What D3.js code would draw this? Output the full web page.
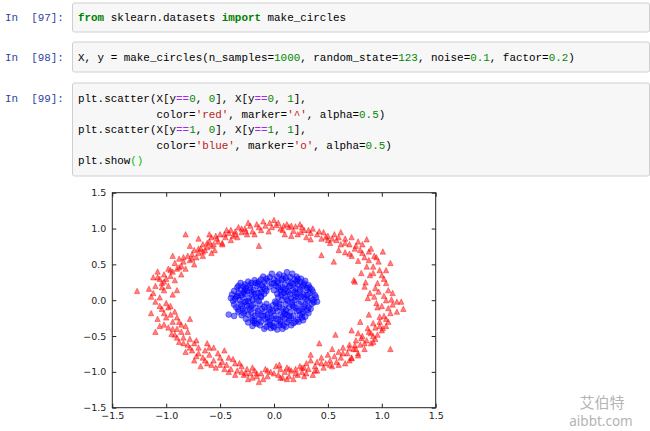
<!DOCTYPE html>
<html><head><meta charset="utf-8">
<script src="https://cdn.jsdelivr.net/npm/d3@7"></script>
<style>html,body{margin:0;padding:0;background:#fff;}svg{display:block}</style>
</head><body>
<svg id="c" width="650" height="431"></svg>
<script>
// ---------- data ----------
const xTicks = [-1.5, -1.0, -0.5, 0.0, 0.5, 1.0, 1.5];
const yTicks = [-1.5, -1.0, -0.5, 0.0, 0.5, 1.0, 1.5];

// class 0 (red triangles)
const redPoints = [
[1.04,0.00],[1.09,0.01],[1.14,-0.02],[1.18,-0.02],[0.95,-0.04],[0.87,0.03],[0.89,0.10],[0.97,0.12],[1.06,0.14],[0.94,0.17],
[0.84,0.19],[1.04,0.24],[0.75,0.26],[0.89,0.35],[1.00,0.35],[0.81,0.38],[0.98,0.42],[0.92,0.47],[0.97,0.54],[1.08,0.52],
[1.01,0.68],[0.86,0.47],[0.78,0.55],[0.84,0.60],[0.93,0.62],[0.72,0.62],[0.80,0.70],[0.88,0.68],[0.75,0.72],[0.66,0.67],
[0.70,0.78],[0.78,0.82],[0.62,0.78],[0.58,0.84],[0.66,0.86],[0.72,0.88],[0.52,0.80],[0.50,0.90],[0.56,0.92],[0.44,0.86],
[0.40,0.92],[0.46,0.95],[0.34,0.94],[0.30,0.88],[0.28,0.98],[0.22,0.92],[0.18,0.97],[0.14,1.02],[0.10,0.92],[0.06,1.00],
[0.02,1.05],[0.00,1.12],[0.04,1.08],[0.12,1.06],[0.20,1.03],[0.26,1.02],[0.36,1.00],[0.48,0.88],[0.62,0.95],[0.82,0.78],
[0.86,0.85],[0.90,0.72],[0.95,0.60],[0.70,0.65],[0.60,0.70],[0.34,0.85],[0.16,0.90],[0.09,1.04],[0.25,0.95],[0.54,0.86],
[0.44,0.63],[0.555,0.54],[0.74,0.28],[0.85,0.25],[1.02,0.30],[0.93,0.05],
[-0.04,1.08],[-0.08,1.04],[-0.12,0.98],[-0.16,1.06],[-0.20,0.96],[-0.22,1.04],[-0.27,1.00],[-0.30,0.95],[-0.33,1.02],[-0.36,0.96],
[-0.38,0.90],[-0.42,0.94],[-0.45,0.88],[-0.48,0.80],[-0.50,0.92],[-0.53,0.86],[-0.56,0.78],[-0.58,0.88],[-0.60,0.82],[-0.62,0.74],
[-0.64,0.70],[-0.66,0.78],[-0.68,0.72],[-0.70,0.66],[-0.72,0.60],[-0.74,0.70],[-0.76,0.64],[-0.78,0.56],[-0.80,0.62],[-0.82,0.92],
[-0.84,0.54],[-0.86,0.48],[-0.88,0.58],[-0.90,0.44],[-0.92,0.52],[-0.94,0.40],[-0.96,0.34],[-0.98,0.44],[-1.00,0.30],[-1.02,0.36],
[-1.04,0.24],[-1.06,0.30],[-1.10,0.20],[-1.12,0.32],[-1.16,0.16],[-1.27,0.13],[-0.14,0.76],[-0.48,0.78],[-0.55,0.70],[-0.66,0.62],
[-0.74,0.50],[-0.82,0.44],[-0.86,0.36],[-0.92,0.28],[-0.98,0.20],[-1.02,0.14],[-0.25,0.92],[-0.05,0.96],[-0.10,1.10],[-0.34,0.88],
[-0.44,0.98],[-0.60,0.92],[-0.70,0.86],[-0.78,0.76],[-1.08,0.40],[-0.94,0.62],[-0.58,0.66],[-0.40,0.84],[-1.14,0.05],[-0.90,0.14],
[-1.06,0.04],[-1.10,-0.02],[-1.00,-0.04],[-1.14,-0.18],[-1.04,-0.12],[-0.96,-0.08],[-0.92,-0.16],[-1.08,-0.26],[-1.00,-0.24],[-0.94,-0.30],
[-0.86,-0.34],[-0.98,-0.38],[-1.10,-0.44],[-0.90,-0.40],[-0.82,-0.36],[-0.80,-0.44],[-0.92,-0.48],[-0.95,-0.47],[-0.84,-0.52],[-0.78,-0.54],
[-0.88,-0.58],[-0.80,-0.62],[-0.74,-0.60],[-0.76,-0.70],[-0.70,-0.66],[-0.82,-0.72],[-0.64,-0.70],[-0.66,-0.80],[-0.60,-0.76],[-0.72,-0.78],
[-0.56,-0.84],[-0.62,-0.88],[-0.52,-0.74],[-0.50,-0.80],[-0.48,-0.86],[-0.54,-0.94],[-0.44,-0.90],[-0.42,-0.80],[-0.40,-0.96],[-0.36,-0.88],
[-0.34,-0.98],[-0.30,-0.92],[-0.28,-1.04],[-0.25,-0.96],[-0.22,-1.02],[-0.20,-1.08],[-0.18,-0.98],[-0.14,-1.14],[-0.12,-1.02],[-0.08,-0.96],
[-0.06,-1.06],[-0.03,-1.00],[-0.68,-0.92],[-0.56,-0.66],[-0.46,-0.70],[-0.86,-0.44],[-0.96,-0.20],[-1.02,-0.34],[-0.74,-0.84],[-0.36,-1.04],
[-0.16,-1.06],[-0.24,-1.10],[-0.30,-1.00],[-0.42,-1.00],[-0.10,-1.10],[-0.90,-0.24],[-1.06,-0.08],[-0.62,-0.60],[-0.38,-0.82],[-0.78,-0.26],
[0.02,-0.92],[0.04,-1.04],[0.06,-0.96],[0.08,-1.08],[0.10,-1.00],[0.12,-0.94],[0.14,-1.06],[0.16,-0.98],[0.18,-1.10],[0.20,-0.96],
[0.22,-1.04],[0.24,-0.92],[0.26,-1.00],[0.28,-1.06],[0.30,-0.88],[0.32,-0.96],[0.34,-0.84],[0.36,-1.04],[0.38,-0.92],[0.40,-0.86],
[0.42,-0.60],[0.44,-0.80],[0.46,-0.94],[0.48,-0.88],[0.50,-0.76],[0.52,-0.84],[0.54,-0.92],[0.56,-0.78],[0.58,-0.86],[0.57,-0.48],
[0.60,-0.72],[0.62,-0.80],[0.64,-0.66],[0.66,-0.88],[0.68,-0.74],[0.70,-0.62],[0.72,-0.80],[0.74,-0.68],[0.76,-0.56],[0.78,-0.74],
[0.80,-0.62],[0.82,-0.50],[0.84,-0.68],[0.86,-0.56],[0.88,-0.44],[0.90,-0.60],[0.92,-0.50],[0.94,-0.38],[0.96,-0.48],[0.98,-0.30],
[1.00,-0.42],[1.02,-0.22],[1.04,-0.36],[1.06,-0.30],[1.08,-0.68],[1.06,-0.11],[1.14,-0.16],[1.20,-0.12],[0.92,-0.32],[0.87,-0.39],
[0.80,-0.30],[0.72,-0.42],[0.78,-0.46],[0.81,-0.53],[0.75,-0.63],[0.70,-0.67],[0.72,-0.81],[0.78,-0.77],[0.98,-0.23],[0.88,-0.20],
[1.01,-0.39],[0.92,-0.58],[0.60,-0.90],[0.40,-0.98],[0.28,-0.94],[0.12,-1.10],[0.05,-0.90],[0.34,-0.76],[0.54,-0.68],[0.96,-0.10],
[-0.66,0.68],[-0.62,0.80],[-0.52,0.82],[-0.46,0.92],[-0.40,0.98],[-0.36,0.92],[-0.30,1.00],[-0.26,0.96],[-0.70,0.72],[-0.76,0.58],
[-0.84,0.60],[-0.88,0.46],[-0.96,0.42],[-1.02,0.26],[-1.08,0.32],[-1.12,0.10],[-0.94,0.08],[-1.04,0.18],[-0.58,0.76],[-0.54,0.90],
[-1.02,-0.18],[-0.94,-0.40],[-0.90,-0.52],[-0.84,-0.60],[-0.78,-0.66],[-0.70,-0.74],[-0.64,-0.84],[-0.58,-0.90],[-0.50,-0.90],[-0.46,-0.96],
[-0.32,-0.88],[-0.26,-1.02],[-0.20,-0.94],[-0.16,-1.02],[-0.06,-0.98],[-0.98,-0.10],[-1.06,-0.36],[-0.88,-0.30],[-0.72,-0.56],[-0.60,-0.66],
[0.00,-1.02],[0.06,-1.08],[0.14,-0.96],[0.20,-1.02],[0.26,-0.94],[0.30,-1.02],[0.38,-0.98],[0.44,-0.88],[0.52,-0.90],[0.64,-0.74],
[0.70,-0.84],[0.76,-0.68],[0.84,-0.60],[0.90,-0.46],[0.94,-0.54],[0.98,-0.36],[1.04,-0.26],[1.08,-0.18],[1.10,-0.06],[1.00,-0.08],
[1.02,0.06],[1.10,0.10],[0.96,0.24],[0.92,0.38],[1.04,0.42],[0.88,0.56],[0.82,0.66],[0.76,0.76],[0.66,0.80],[0.60,0.88],
[0.50,0.84],[0.42,0.96],[0.32,0.98],[0.24,1.06],[0.16,1.04],[0.08,0.98],[-0.02,1.02],[-0.14,1.02],[-0.18,0.92],[-0.24,1.08]
];

// class 1 (blue circles)
const bluePoints = [
[0.12,0.39],[0.17,0.37],[0.05,0.36],[-0.02,0.37],
[-0.10,0.33],[-0.04,0.32],[0.03,0.33],[0.09,0.34],[0.15,0.32],[0.21,0.33],[0.25,0.30],
[-0.24,0.26],[-0.18,0.28],[-0.12,0.29],[-0.06,0.27],[0.00,0.29],[0.07,0.28],[0.13,0.27],[0.19,0.29],[0.24,0.26],[0.29,0.27],
[-0.31,0.24],[-0.27,0.22],[-0.21,0.24],[-0.15,0.23],[-0.09,0.25],[-0.02,0.23],[0.04,0.24],[0.10,0.22],[0.16,0.24],[0.22,0.22],[0.28,0.23],[0.32,0.21],
[-0.34,0.18],[-0.28,0.19],[-0.22,0.17],[-0.16,0.20],[-0.10,0.18],[-0.04,0.19],[0.02,0.20],[0.08,0.18],[0.14,0.19],[0.20,0.17],[0.26,0.19],[0.31,0.17],[0.35,0.15],
[-0.37,0.13],[-0.31,0.15],[-0.25,0.13],[-0.19,0.14],[-0.13,0.15],[-0.07,0.13],[0.00,0.14],[0.06,0.15],[0.12,0.13],[0.18,0.14],[0.24,0.12],[0.30,0.14],[0.36,0.12],
[-0.39,0.08],[-0.33,0.10],[-0.27,0.09],[-0.21,0.08],[-0.15,0.10],[-0.09,0.09],[0.03,0.09],[0.09,0.10],[0.15,0.08],[0.21,0.09],[0.27,0.08],[0.33,0.10],[0.38,0.07],
[-0.40,0.03],[-0.35,0.05],[-0.29,0.04],[-0.23,0.03],[-0.17,0.05],[-0.12,0.04],[0.04,0.04],[0.10,0.05],[0.16,0.03],[0.22,0.04],[0.28,0.05],[0.34,0.03],[0.39,0.04],
[-0.38,-0.01],[-0.32,0.00],[-0.26,-0.02],[-0.20,0.00],[-0.14,-0.01],[0.01,-0.02],[0.07,0.00],[0.13,-0.01],[0.19,0.00],[0.25,-0.02],[0.31,-0.01],[0.36,0.00],[0.40,-0.02],
[-0.37,-0.06],[-0.31,-0.05],[-0.25,-0.07],[-0.19,-0.05],[-0.13,-0.06],[-0.07,-0.05],[-0.01,-0.07],[0.05,-0.05],[0.11,-0.06],[0.17,-0.07],[0.23,-0.05],[0.29,-0.06],[0.35,-0.05],
[-0.35,-0.10],[-0.29,-0.12],[-0.23,-0.10],[-0.17,-0.11],[-0.11,-0.12],[-0.05,-0.10],[0.02,-0.11],[0.08,-0.12],[0.14,-0.10],[0.20,-0.11],[0.26,-0.12],[0.32,-0.10],
[-0.33,-0.16],[-0.27,-0.15],[-0.21,-0.17],[-0.15,-0.15],[-0.09,-0.16],[-0.03,-0.17],[0.03,-0.15],[0.09,-0.16],[0.15,-0.17],[0.21,-0.15],[0.27,-0.16],[0.32,-0.18],
[-0.42,-0.20],[-0.37,-0.22],[-0.30,-0.21],[-0.24,-0.20],[-0.18,-0.22],[-0.12,-0.21],[-0.06,-0.20],[0.00,-0.22],[0.06,-0.21],[0.12,-0.20],[0.18,-0.22],[0.24,-0.21],[0.29,-0.23],
[-0.26,-0.26],[-0.20,-0.25],[-0.14,-0.27],[-0.08,-0.26],[-0.02,-0.25],[0.04,-0.27],[0.10,-0.26],[0.16,-0.25],[0.22,-0.27],[0.27,-0.28],
[-0.24,-0.31],[-0.18,-0.32],[-0.12,-0.30],[-0.06,-0.31],[0.00,-0.32],[0.06,-0.30],[0.12,-0.31],[0.18,-0.32],[0.23,-0.30],
[-0.20,-0.36],[-0.13,-0.35],[-0.07,-0.37],[-0.01,-0.36],[0.05,-0.35],[0.11,-0.37],[0.16,-0.35],
[-0.09,-0.40],[-0.03,-0.39],[0.03,-0.41],[0.08,-0.40],
[-0.28,0.11],[-0.22,0.21],[-0.12,0.06],[0.00,0.24],[0.06,0.12],[0.12,0.01],[0.18,0.23],[0.24,0.15],[0.30,0.02],[-0.30,-0.08],
[-0.22,-0.13],[-0.16,0.02],[-0.04,-0.13],[0.02,-0.04],[0.10,-0.19],[0.18,-0.09],[0.26,-0.19],[0.34,-0.12],[-0.18,-0.29],[-0.06,-0.24],
[0.06,-0.33],[0.14,-0.28],[0.20,0.05],[-0.34,0.06],[-0.26,0.17],[0.08,0.30],[-0.14,0.26],[0.22,0.30],[0.28,-0.09],
[-0.33,0.20],[-0.27,0.14],[-0.21,0.12],[-0.17,0.24],[-0.11,0.21],[-0.07,0.30],[0.03,0.26],[0.11,0.31],[0.15,0.20],[0.21,0.26],
[0.27,0.21],[0.33,0.18],[-0.36,0.02],[-0.30,0.07],[-0.24,-0.01],[-0.18,0.09],[0.07,0.07],[0.13,0.11],[0.19,0.11],[0.25,0.05],
[0.31,0.07],[0.37,-0.03],[-0.33,-0.13],[-0.27,-0.03],[-0.21,-0.08],[-0.15,-0.19],[-0.09,-0.09],[-0.01,-0.15],[0.05,-0.09],[0.11,-0.14],
[0.17,-0.03],[0.23,-0.14],[0.31,-0.14],[-0.28,-0.18],[-0.20,-0.28],[-0.10,-0.22],[-0.04,-0.29],[0.02,-0.26],[0.08,-0.23],[0.14,-0.22],
[0.20,-0.30],[0.26,-0.24],[-0.16,-0.33],[-0.04,-0.34],[0.09,-0.35],[0.00,-0.38],[-0.12,0.11],[-0.08,0.16],[0.04,0.18],[0.10,0.15]
];

// code cells: [text, style] tokens per line
const codePrompts = ["In  [97]:", "In  [98]:", "In  [99]:"];
const codeLines = [
  [[["from","kw"],[" sklearn.datasets ",""],["import","kw"],[" make_circles",""]]],
  [[["X, y = make_circles(n_samples=",""],["1000","num"],[", random_state=",""],["123","num"],[", noise=",""],["0.1","num"],[", factor=",""],["0.2","num"],[")",""]]],
  [
    [["plt.scatter(X[y",""],["==","op"],["0","num"],[", ",""],["0","num"],["], X[y",""],["==","op"],["0","num"],[", ",""],["1","num"],["],",""]],
    [["            color=",""],["'red'","str"],[", marker=",""],["'^'","str"],[", alpha=",""],["0.5","num"],[")",""]],
    [["plt.scatter(X[y",""],["==","op"],["1","num"],[", ",""],["0","num"],["], X[y",""],["==","op"],["1","num"],[", ",""],["1","num"],["],",""]],
    [["            color=",""],["'blue'","str"],[", marker=",""],["'o'","str"],[", alpha=",""],["0.5","num"],[")",""]],
    [["plt.show",""],["()","brk"]]
  ]
];
const watermark = ["艾伯特", "aibbt.com"];

// ---------- layout ----------
const svg = d3.select("#c");
svg.append("rect").attr("width",650).attr("height",431).attr("fill","#fff");

const cellBox = [[3,32],[42,72],[83,176]];
const cellLineY = [[17],[57],[98,113.5,129,144.5,160]];
const codeX = 78, codeFS = 10.9;
const styleFill = {"":"#000", kw:"#008000", num:"#008800", str:"#BA2121", op:"#AA22FF", brk:"#00bb00"};
const monoFont = "'Liberation Mono','DejaVu Sans Mono',monospace";

cellBox.forEach((b,i)=>{
  svg.append("rect").attr("x",72.5).attr("y",b[0]).attr("width",577).attr("height",b[1]-b[0])
    .attr("rx",2).attr("fill","#f7f7f7").attr("stroke","#cfcfcf").attr("stroke-width",1);
  svg.append("text").attr("x",5).attr("y",cellLineY[i][0]+4)
    .attr("font-family",monoFont).attr("font-size",codeFS).attr("fill","#303F9F")
    .style("white-space","pre").text(codePrompts[i]);
  codeLines[i].forEach((line,j)=>{
    svg.append("text").attr("x",codeX).attr("y",cellLineY[i][j]+4)
      .attr("font-family",monoFont).attr("font-size",codeFS)
      .style("white-space","pre")
      .selectAll("tspan").data(line).join("tspan")
      .attr("fill",d=>styleFill[d[1]])
      .attr("font-weight",d=>d[1]==="kw"?"bold":"normal")
      .text(d=>d[0]);
  });
});

// ---------- plot ----------
const L=112.3, R=435.7, T=192.7, B=407.7;
const x = d3.scaleLinear().domain([-1.5,1.5]).range([L,R]);
const y = d3.scaleLinear().domain([-1.5,1.5]).range([B,T]);
const fmt = d3.format(".1f");

const g = svg.append("g");
g.append("rect").attr("x",L).attr("y",T).attr("width",R-L).attr("height",B-T).attr("fill","#fff");

// red triangles
const h = 2.7;
g.append("g").selectAll("path").data(redPoints).join("path")
  .attr("d",`M0,${-h}L${-h},${h}L${h},${h}Z`)
  .attr("transform",d=>`translate(${x(d[0])},${y(d[1])})`)
  .attr("fill","red").attr("fill-opacity",0.5)
  .attr("stroke","red").attr("stroke-opacity",0.5).attr("stroke-width",0.8);

// blue circles
g.append("g").selectAll("circle").data(bluePoints).join("circle")
  .attr("cx",d=>x(d[0])).attr("cy",d=>y(d[1])).attr("r",2.9)
  .attr("fill","blue").attr("fill-opacity",0.5)
  .attr("stroke","blue").attr("stroke-opacity",0.5).attr("stroke-width",0.8);

// axes with inward ticks on all sides
const tickFont = "'DejaVu Sans',sans-serif";
function styleAxis(sel){
  sel.select(".domain").remove();
  sel.selectAll(".tick line").attr("stroke","#222");
  sel.selectAll(".tick text").attr("font-family",tickFont).attr("font-size",9.5).attr("fill","#222");
}
svg.append("g").attr("transform",`translate(0,${B})`)
  .call(d3.axisBottom(x).tickValues(xTicks).tickFormat(fmt).tickSize(-4).tickSizeOuter(0).tickPadding(5))
  .call(styleAxis);
svg.append("g").attr("transform",`translate(${L},0)`)
  .call(d3.axisLeft(y).tickValues(yTicks).tickFormat(fmt).tickSize(-4).tickSizeOuter(0).tickPadding(6))
  .call(styleAxis);
svg.append("g").attr("transform",`translate(0,${T})`)
  .call(d3.axisTop(x).tickValues(xTicks).tickFormat("").tickSize(-4).tickSizeOuter(0))
  .call(styleAxis);
svg.append("g").attr("transform",`translate(${R},0)`)
  .call(d3.axisRight(y).tickValues(yTicks).tickFormat("").tickSize(-4).tickSizeOuter(0))
  .call(styleAxis);
svg.append("rect").attr("x",L).attr("y",T).attr("width",R-L).attr("height",B-T)
  .attr("fill","none").attr("stroke","#222").attr("stroke-width",1);

// watermark
svg.append("text").attr("x",602).attr("y",408).attr("text-anchor","middle")
  .attr("font-family","'Noto Sans CJK SC',sans-serif").attr("font-size",15).attr("fill","#b4b4b4")
  .text(watermark[0]);
svg.append("text").attr("x",601).attr("y",426).attr("text-anchor","middle")
  .attr("font-family","'Noto Sans',sans-serif").attr("font-size",13.5).attr("fill","#b4b4b4")
  .text(watermark[1]);
</script>
</body></html>
